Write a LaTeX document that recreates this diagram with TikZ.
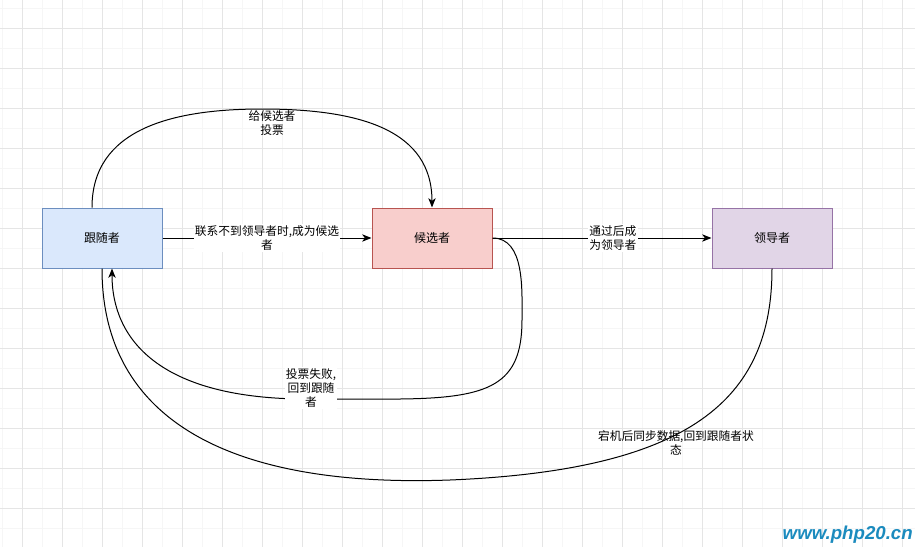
\documentclass[tikz,border=0pt]{standalone}
\usepackage{fontspec}
\setmainfont{Noto Sans CJK SC}
\newfontfamily\markfont{Liberation Sans}
\usetikzlibrary{arrows.meta,calc,positioning}

\definecolor{followerfill}{HTML}{DAE8FC}
\definecolor{followerline}{HTML}{6C8EBF}
\definecolor{candfill}{HTML}{F8CECC}
\definecolor{candline}{HTML}{B85450}
\definecolor{leadfill}{HTML}{E1D5E7}
\definecolor{leadline}{HTML}{9673A6}
\definecolor{markblue}{HTML}{1B8BBE}

\begin{document}
\begin{tikzpicture}[
    x=0.75pt, y=-0.75pt,
    >={Stealth[length=7pt,width=5.5pt,inset=2pt]},
    gridminor/.style={draw=gray!7, line width=0.5pt},
    gridmajor/.style={draw=gray!20, line width=0.5pt},
    state/.style={draw, line width=0.75pt, minimum width=90pt,
      minimum height=45pt, font=\fontsize{9}{11}\selectfont},
    edge/.style={draw=black, line width=0.75pt},
    tag/.style={font=\fontsize{8.8}{10.6}\selectfont, align=center,
      inner sep=1pt},
]
\useasboundingbox (0,0) rectangle (915,547);
\fill[white] (0,0) rectangle (915,547);

% ---------------------------------------------------------
% background grid
% ---------------------------------------------------------
\foreach \x in {2,42,...,902}
  {\draw[gridminor] (\x,0) -- (\x,547);}
\foreach \y in {8,48,...,528}
  {\draw[gridminor] (0,\y) -- (915,\y);}
\foreach \x in {22,62,...,902}
  {\draw[gridmajor] (\x,0) -- (\x,547);}
\foreach \y in {28,68,...,508}
  {\draw[gridmajor] (0,\y) -- (915,\y);}

% ---------------------------------------------------------
% states
% ---------------------------------------------------------
\node[state, fill=followerfill, draw=followerline] (follower) at (102,238) {跟随者};
\node[state, fill=candfill, draw=candline] (candidate) at (432,238) {候选者};
\node[state, fill=leadfill, draw=leadline] (leader) at (772,238) {领导者};

% ---------------------------------------------------------
% transitions
% ---------------------------------------------------------
\draw[edge,->] ($(follower.north)+(-10,0)$)
  .. controls (92,130) and (170,109) .. (262,109)
  .. controls (360,109) and (432,130) .. (candidate.north);
\node[tag] (votetag) at (272,123) {给候选者\\投票};

\draw[edge,->] (follower.east) -- (candidate.west)
  node[tag, midway, fill=white] (electtag) {联系不到领导者时,成为候选\\者};

\draw[edge,->] (candidate.east) -- (leader.west)
  node[tag, pos=0.55, fill=white] (wintag) {通过后成\\为领导者};

\draw[edge,->] (candidate.east)
  .. controls (525,238) and (522,290) .. (522,320)
  .. controls (522,385) and (490,398) .. (400,399)
  -- (300,399)
  .. controls (160,397) and (112,340) .. ($(follower.south)+(10,0)$);
\node[tag, fill=white] (losetag) at (311,388) {投票失败,\\回到跟随\\者};

\draw[edge] (leader.south)
  .. controls (772,400) and (690,470) .. (450,480)
  .. controls (230,488) and (102,420) .. (follower.south);
\node[tag] (crashtag) at (676,443) {宕机后同步数据,回到跟随者状\\态};

% watermark
\node[anchor=east, inner sep=0pt, text=markblue,
  font=\markfont\fontsize{14}{16}\selectfont\bfseries\itshape]
  (site) at (913,535) {www.php20.cn};
\end{tikzpicture}
\end{document}
